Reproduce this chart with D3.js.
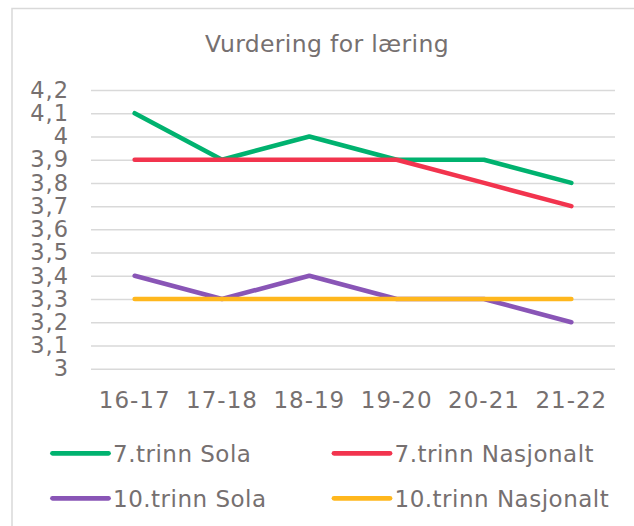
<!DOCTYPE html>
<html lang="no">

<head>
  <meta charset="UTF-8">
  <title>Vurdering for læring</title>
  <style>
    html,
    body {
      margin: 0;
      width: 100%;
      height: 100%;
      overflow: hidden;
      background: #fff;
    }

    svg text {
      font-family: "DejaVu Sans", Verdana, sans-serif;
      fill: #767070;
    }
  </style>
</head>

<body>
  <div id="chart"></div>

  <script src="https://cdn.jsdelivr.net/npm/d3@7"></script>
  <script>
    const title = 'Vurdering for læring'
    const categories = ['16-17', '17-18', '18-19', '19-20', '20-21', '21-22']
    const yTicks = [3, 3.1, 3.2, 3.3, 3.4, 3.5, 3.6, 3.7, 3.8, 3.9, 4, 4.1, 4.2]

    const trinn7Sola = [4.1, 3.9, 4.0, 3.9, 3.9, 3.8]
    const trinn7Nasjonalt = [3.9, 3.9, 3.9, 3.9, 3.8, 3.7]
    const trinn10Sola = [3.4, 3.3, 3.4, 3.3, 3.3, 3.2]
    const trinn10Nasjonalt = [3.3, 3.3, 3.3, 3.3, 3.3, 3.3]

    const seriesNames = ['7.trinn Sola', '7.trinn Nasjonalt', '10.trinn Sola', '10.trinn Nasjonalt']
    const seriesColors = ['#00b26f', '#f2344e', '#8955b6', '#ffb71d']

    const series = [trinn7Sola, trinn7Nasjonalt, trinn10Sola, trinn10Nasjonalt]
      .map((values, i) => ({ name: seriesNames[i], color: seriesColors[i], values }))

    const width = 634
    const height = 526
    const plot = { left: 91, right: 615, top: 90, bottom: 368.7 }

    const x = d3.scaleBand()
      .domain(categories)
      .range([plot.left, plot.right])

    const y = d3.scaleLinear()
      .domain([3, 4.2])
      .range([plot.bottom, plot.top])

    const fmt = d => String(d3.format('~g')(d)).replace('.', ',')

    const svg = d3.select('#chart').append('svg')
      .attr('width', width)
      .attr('height', height)

    // chart area border (runs off right/bottom edge)
    svg.append('rect')
      .attr('x', 12)
      .attr('y', 8.5)
      .attr('width', 660)
      .attr('height', 560)
      .attr('fill', '#fff')
      .attr('stroke', '#d9d9d9')
      .attr('stroke-width', 1.5)

    svg.append('text')
      .attr('x', 327)
      .attr('y', 52)
      .attr('text-anchor', 'middle')
      .style('font-size', '23.5px')
      .style('letter-spacing', '0.35px')
      .text(title)

    // gridlines + y labels
    const yAxis = svg.append('g')
      .attr('transform', `translate(${plot.left},0)`)
      .call(d3.axisLeft(y)
        .tickValues(yTicks)
        .tickSize(-(plot.right - plot.left))
        .tickPadding(22)
        .tickFormat(fmt))

    yAxis.select('.domain').remove()
    yAxis.selectAll('.tick line')
      .attr('stroke', '#d9d9d9')
      .attr('stroke-width', 1.5)
    yAxis.selectAll('.tick text')
      .attr('fill', '#767070')
      .style('font-size', '22.5px')
      .style('letter-spacing', '1px')
      .attr('font-family', null)

    // x labels
    const xAxis = svg.append('g')
      .attr('transform', `translate(0,${plot.bottom})`)
      .call(d3.axisBottom(x).tickSize(0).tickPadding(0))

    xAxis.select('.domain').remove()
    xAxis.selectAll('.tick text')
      .attr('dy', null)
      .attr('y', 39.5)
      .attr('fill', '#767070')
      .style('font-size', '23px')
      .style('letter-spacing', '1px')
      .attr('font-family', null)

    const line = d3.line()
      .x((d, i) => x(categories[i]) + x.bandwidth() / 2)
      .y(d => y(d))

    svg.append('g')
      .selectAll('path')
      .data(series)
      .join('path')
      .attr('d', d => line(d.values))
      .attr('fill', 'none')
      .attr('stroke', d => d.color)
      .attr('stroke-width', 4.6)
      .attr('stroke-linecap', 'round')
      .attr('stroke-linejoin', 'round')

    // legend, 2 x 2
    const legendPos = [[52.5, 453.3], [334, 453.3], [52.5, 498.3], [334, 498.3]]
    const legend = svg.append('g')
      .selectAll('g')
      .data(series)
      .join('g')
      .attr('transform', (d, i) => `translate(${legendPos[i][0]},${legendPos[i][1]})`)

    legend.append('line')
      .attr('x1', 0)
      .attr('x2', 56)
      .attr('stroke', d => d.color)
      .attr('stroke-width', 4.8)
      .attr('stroke-linecap', 'round')

    legend.append('text')
      .attr('x', 60.5)
      .attr('dy', '0.36em')
      .style('font-size', '23px')
      .style('letter-spacing', '0.5px')
      .text(d => d.name)
  </script>
</body>

</html>
